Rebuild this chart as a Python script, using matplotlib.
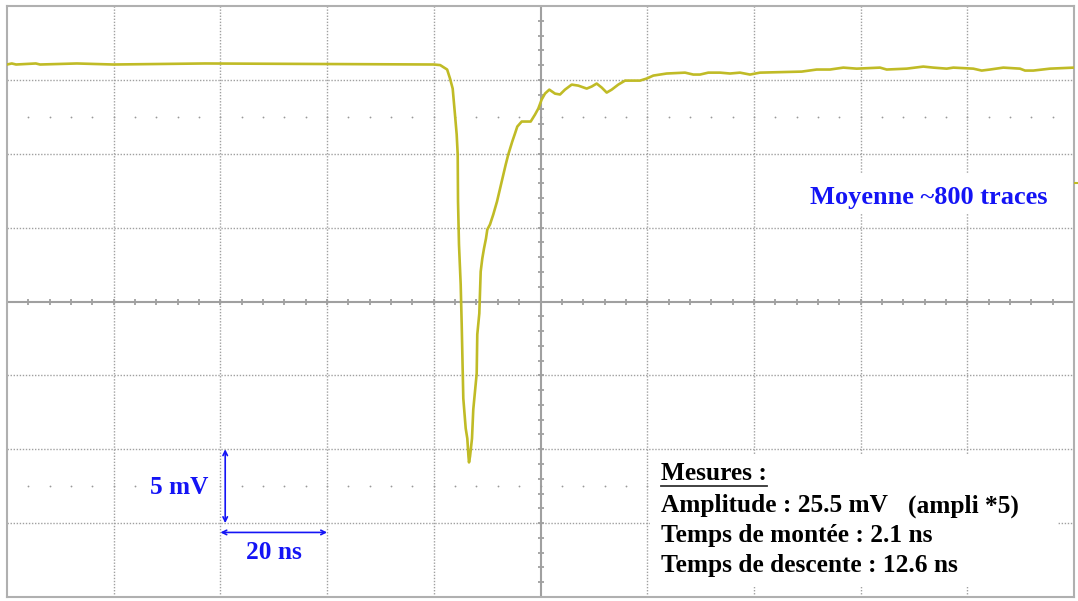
import matplotlib
matplotlib.use('Agg')
import matplotlib.pyplot as plt
import numpy as np
from matplotlib.lines import Line2D
from matplotlib.patches import Rectangle

# averaged trace: time in ns, amplitude in mV (20 ns/div, 5 mV/div)
time_ns = [-100.0, -99.1, -98.3, -94.6, -93.8, -86.9, -80.1, -62.9, -19.96, -18.8,
           -17.5, -16.96, -16.46, -16.03, -15.71, -15.52, -15.46, -15.28, -14.96, -14.77,
           -14.47, -14.02, -13.72, -13.50, -13.40, -13.21, -12.84, -12.60, -12.28, -11.96,
           -11.85, -11.47, -11.21, -10.91, -10.59, -10.22, -9.97, -9.47, -8.85, -8.15,
           -7.27, -6.52, -6.04, -5.29, -4.78, -4.35, -3.52, -1.84, -1.03, -0.41,
           0.22, 0.84, 1.65, 2.72, 3.66, 4.59, 5.85, 7.09, 8.66, 9.60,
           10.53, 11.47, 12.41, 13.35, 14.58, 15.84, 18.65, 19.91, 21.14, 23.65,
           27.09, 28.64, 29.90, 31.45, 33.65, 35.52, 37.39, 39.27, 41.14, 48.96,
           51.77, 54.26, 56.76, 59.27, 63.64, 64.89, 68.64, 71.75, 73.63, 76.14,
           77.38, 81.12, 82.70, 84.25, 86.75, 89.88, 90.82, 92.37, 95.50, 100.0]
signal_mv = [16.04, 16.11, 16.04, 16.11, 16.04, 16.11, 16.04, 16.11, 16.04, 16.0,
             15.70, 15.09, 14.41, 12.65, 11.30, 9.95, 6.77, 3.86, 1.15, -1.56,
             -6.56, -8.59, -9.27, -10.49, -10.89, -10.49, -9.27, -7.31, -6.09, -4.87,
             -2.23, -0.81, 2.03, 2.91, 3.59, 4.26, 4.87, 5.21, 5.89, 6.77,
             8.12, 9.27, 9.95, 10.83, 11.37, 11.84, 12.18, 12.18, 12.65, 13.06,
             13.67, 14.07, 14.34, 14.07, 14.01, 14.34, 14.68, 14.61, 14.41, 14.55,
             14.75, 14.48, 14.14, 14.34, 14.68, 14.95, 14.95, 15.09, 15.29, 15.43,
             15.49, 15.36, 15.36, 15.49, 15.49, 15.43, 15.49, 15.36, 15.49, 15.56,
             15.70, 15.70, 15.83, 15.76, 15.83, 15.70, 15.76, 15.90, 15.83, 15.76,
             15.83, 15.76, 15.63, 15.70, 15.83, 15.76, 15.63, 15.63, 15.76, 15.83]

trigger_level_mv = 8.0
measures = ['Amplitude : 25.5 mV', 'Temps de montée : 2.1 ns', 'Temps de descente : 12.6 ns']

GRID = '#a0a0a0'
TRACE = '#c0bb26'
BLUE = '#1414f5'
SERIF = 'Liberation Serif'
FS = 18.3

fig = plt.figure(figsize=(10.78, 6.01), dpi=100)
ax = fig.add_axes([7 / 1078, 4 / 601, 1067 / 1078, 591 / 601])
ax.set_xlim(-100, 100)
ax.set_ylim(-20, 20)
ax.set_xticks([])
ax.set_yticks([])
for sp in ax.spines.values():
    sp.set_color('#b0b0b0')
    sp.set_linewidth(1.5)

# graticule
for t in np.arange(-80, 100, 20):
    if t != 0:
        ax.axvline(t, color=GRID, lw=1, ls=(0, (1, 1.2)), zorder=1)
for v in np.arange(-15, 20, 5):
    if v != 0:
        ax.axhline(v, color=GRID, lw=1, ls=(0, (1, 1.2)), zorder=1)
ax.axvline(0, color=GRID, lw=1.5, zorder=1)
ax.axhline(0, color=GRID, lw=1.5, zorder=1)
minor_t = np.arange(-96, 100, 4)
minor_v = np.arange(-19, 20, 1)
ax.plot(minor_t, np.zeros_like(minor_t), ls='none', marker='|', ms=5, mew=1.3,
        color=GRID, zorder=1)
ax.plot(np.zeros_like(minor_v), minor_v, ls='none', marker='_', ms=5, mew=1.3,
        color=GRID, zorder=1)
for v in (12.5, -12.5):
    ax.plot(minor_t, np.full_like(minor_t, v, dtype=float), ls='none', marker='o',
            ms=1.3, color='#999999', mew=0, zorder=1)

# white backing for the annotations
ax.add_patch(Rectangle((20.5, -19.3), 76.5, 9.0, facecolor='white',
                       edgecolor='none', zorder=2))
ax.add_patch(Rectangle((48.6, 5.9), 48.4, 2.7, facecolor='white',
                       edgecolor='none', zorder=2))

ax.plot(time_ns, signal_mv, color=TRACE, lw=1.9, zorder=3)
ax.plot([100], [trigger_level_mv], marker=1, ms=4, mew=1.5, color=TRACE,
        clip_on=False, zorder=4)

# scale markers
arrow = dict(arrowstyle='<->', color=BLUE, lw=1.2, shrinkA=0, shrinkB=0,
             mutation_scale=8)
ax.annotate('', xy=(-59.1, -10), xytext=(-59.1, -15), arrowprops=arrow, zorder=4)
ax.annotate('', xy=(-60, -15.63), xytext=(-40, -15.63), arrowprops=arrow, zorder=4)
ax.text(-67.8, -13.0, '5 mV', color=BLUE, fontsize=FS, fontweight='bold',
        family=SERIF, ha='center', va='baseline', zorder=4,
        bbox=dict(facecolor='white', edgecolor='none', pad=1))
ax.text(-50.0, -17.4, '20 ns', color=BLUE, fontsize=FS, fontweight='bold',
        family=SERIF, ha='center', va='baseline', zorder=4)

ax.text(72.8, 6.63, 'Moyenne ~800 traces', color=BLUE, fontsize=19,
        fontweight='bold', family=SERIF, ha='center', va='baseline', zorder=4)

head = ax.text(22.6, -12.11, 'Mesures :', color='black', fontsize=FS,
               fontweight='bold', family=SERIF, ha='left', va='baseline', zorder=4)
for label, v in zip(measures, [-14.28, -16.31, -18.34]):
    ax.text(22.6, v, label, color='black', fontsize=FS, fontweight='bold',
            family=SERIF, ha='left', va='baseline', zorder=4)
ax.text(68.9, -14.28, '(ampli *5)', color='black', fontsize=FS, fontweight='bold',
        family=SERIF, ha='left', va='baseline', zorder=4)

# underline the heading
fig.canvas.draw()
bb = head.get_window_extent()
x0, x1 = bb.x0 / fig.bbox.width, bb.x1 / fig.bbox.width
y0 = (bb.y0 - 1) / fig.bbox.height
fig.add_artist(Line2D([x0, x1], [y0, y0], color='#333333', lw=1.3))

fig.savefig('out.png', dpi=100)
